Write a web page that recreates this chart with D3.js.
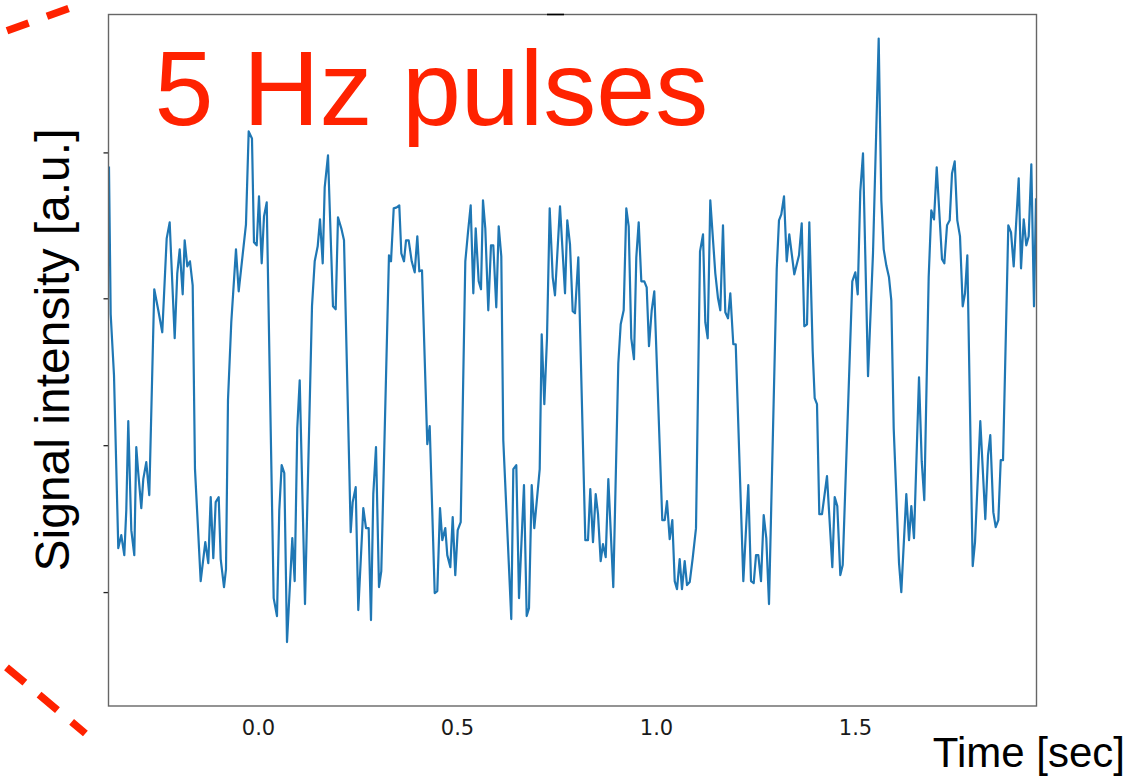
<!DOCTYPE html>
<html>
<head>
<meta charset="utf-8">
<script src="https://cdn.jsdelivr.net/npm/d3@7"></script>
<style>
body { margin: 0; background: #fff; }
</style>
</head>
<body>
<div id="chart"></div>
<script>
var svgWidth = 1128;
var svgHeight = 776;

var margin = { top: 14.5, right: 91.5, bottom: 70, left: 108.5 };
var width = svgWidth - margin.left - margin.right;
var height = svgHeight - margin.top - margin.bottom;

// Time samples (sec) and signal intensity (a.u.)
var times = [
  -0.3744,-0.3701,-0.3618,-0.3510,-0.3435,-0.3359,-0.3309,-0.3259,-0.3183,-0.3108,
  -0.3058,-0.3008,-0.2932,-0.2882,-0.2807,-0.2731,-0.2606,-0.2505,-0.2405,-0.2294,
  -0.2219,-0.2093,-0.2028,-0.1967,-0.1892,-0.1842,-0.1776,-0.1709,-0.1641,-0.1583,
  -0.1440,-0.1324,-0.1249,-0.1188,-0.1123,-0.1063,-0.0987,-0.0937,-0.0854,-0.0804,
  -0.0754,-0.0671,-0.0553,-0.0485,-0.0302,-0.0234,-0.0151,-0.0101,-0.0033,0.0025,
  0.0093,0.0151,0.0219,0.0394,0.0477,0.0535,0.0595,0.0661,0.0729,0.0862,
  0.0922,0.0987,0.1048,0.1181,0.1357,0.1425,0.1500,0.1558,0.1626,0.1676,
  0.1759,0.1884,0.1952,0.2010,0.2093,
  0.2161,0.2294,0.2329,0.2379,0.2455,0.2520,0.2646,0.2714,0.2781,0.2839,
  0.2897,0.2965,0.3040,0.3098,0.3291,0.3342,0.3410,0.3485,0.3550,0.3601,
  0.3668,0.3719,0.3786,0.3862,0.3937,0.4003,0.4053,0.4121,0.4254,0.4314,
  0.4440,0.4505,0.4573,0.4631,0.4706,0.4756,0.4832,0.4892,0.4957,0.5018,
  0.5093,0.5209,0.5276,0.5344,0.5410,0.5470,0.5545,0.5603,0.5653,0.5711,
  0.5786,0.5854,0.5912,0.5987,0.6048,0.6113,0.6163,0.6364,0.6415,0.6490,
  0.6558,0.6683,0.6751,0.6809,0.6877,0.6942,0.7078,0.7128,0.7194,0.7261,
  0.7329,0.7405,0.7462,0.7588,0.7714,0.7771,0.7839,0.7907,0.7965,0.8048,
  0.8224,0.8291,0.8349,0.8417,0.8485,0.8543,0.8610,0.8668,0.8736,0.8802,
  0.8927,0.9053,0.9113,0.9188,0.9254,0.9314,0.9379,0.9447,0.9505,0.9565,
  0.9631,0.9706,0.9766,0.9824,0.9892,0.9957,1.0158,1.0219,1.0276,1.0344,
  1.0410,1.0470,1.0528,1.0595,1.0653,1.0721,1.0779,1.0847,1.0922,
  1.1005,1.1106,1.1181,1.1239,1.1299,1.1364,1.1490,1.1558,1.1616,1.1683,
  1.1741,1.1809,1.1867,1.1942,1.2003,1.2194,1.2319,1.2387,1.2455,1.2513,
  1.2570,1.2638,1.2706,1.2771,1.2839,1.3033,1.3090,1.3148,1.3216,1.3284,
  1.3349,1.3475,1.3593,1.3661,1.3726,1.3794,1.3852,1.3937,1.3987,
  1.4045,1.4103,1.4171,1.4296,1.4430,1.4490,1.4555,1.4631,1.4691,1.4932,
  1.5008,1.5068,1.5133,1.5201,1.5327,1.5452,1.5595,1.5661,1.5721,1.5786,
  1.5854,1.5912,1.5972,1.6106,1.6163,1.6289,1.6357,1.6415,1.6482,1.6608,
  1.6676,1.6741,1.6851,1.6917,
  1.6985,1.7053,1.7186,1.7244,1.7312,1.7379,1.7437,1.7505,1.7570,1.7638,
  1.7706,1.7764,1.7822,1.7957,1.8015,1.8148,1.8274,1.8342,1.8399,1.8475,
  1.8535,1.8601,1.8661,1.8719,1.8852,1.8920,1.8987,1.9113,1.9171,1.9239,
  1.9304,1.9364,1.9430,1.9497,1.9548
];

var values = [
  540,392,331,158,171,151,196,285,176,151,
  259,233,198,227,244,211,417,396,374,468,
  484,368,433,457,412,466,440,445,421,237,
  125,164,143,209,148,204,209,147,119,137,
  306,384,457,415,482,575,568,464,461,510,
  443,490,504,108,90,196,241,233,64,168,
  125,278,326,102,400,445,460,487,443,519,
  551,400,397,489,478,
  466,237,174,204,219,96,198,178,178,86,
  212,259,119,135,451,445,498,499,501,453,
  445,466,466,445,434,470,435,436,262,280,
  113,115,198,166,178,151,139,189,131,176,
  184,445,474,501,413,478,425,417,506,478,
  396,461,461,399,480,450,266,87,237,241,
  108,221,90,98,221,178,237,372,302,368,
  498,429,411,500,413,486,462,395,393,449,
  166,166,217,164,212,192,145,162,149,227,
  119,343,382,396,498,480,368,347,449,484,
  425,425,419,360,396,415,186,186,205,167,
  186,125,117,147,117,145,121,124,148,
  178,455,472,384,368,506,433,408,396,481,
  394,388,413,362,362,125,221,125,123,151,
  151,125,191,168,102,437,486,492,510,445,
  472,432,451,483,380,382,484,355,308,
  302,192,192,230,139,209,200,131,141,425,
  434,412,515,553,330,453,668,506,457,441,
  429,406,278,143,114,212,166,200,168,329,
  245,206,429,496,
  487,539,447,443,481,486,533,545,486,470,
  400,413,451,140,164,285,187,251,271,194,
  179,186,246,246,481,474,440,528,438,487,
  461,470,542,400,508
];

var xTicks = [0.0, 0.5, 1.0, 1.5];
var yTicks = [114, 261, 408, 554];

var xDomain = [-0.3756, 1.956];
var yDomain = [0, 692];

var signal = times.map((t, i) => ({ t: t, v: values[i] }));

var svg = d3.select("#chart")
    .append("svg")
    .attr("width", svgWidth)
    .attr("height", svgHeight);

var chartGroup = svg.append("g")
    .attr("transform", `translate(${margin.left}, ${margin.top})`);

var xScale = d3.scaleLinear().domain(xDomain).range([0, width]);
var yScale = d3.scaleLinear().domain(yDomain).range([height, 0]);

// axes
var bottomAxis = d3.axisBottom(xScale)
    .tickValues(xTicks)
    .tickSize(0)
    .tickPadding(14)
    .tickFormat(d3.format(".1f"));

var leftAxis = d3.axisLeft(yScale)
    .tickValues(yTicks)
    .tickSize(5)
    .tickFormat("");

var xAxisG = chartGroup.append("g")
    .attr("transform", `translate(0, ${height})`)
    .call(bottomAxis);
xAxisG.select(".domain").remove();
xAxisG.attr("font-family", "DejaVu Sans").attr("font-size", 21);
xAxisG.selectAll("text").attr("fill", "#1a1a1a");

var yAxisG = chartGroup.append("g").call(leftAxis);
yAxisG.select(".domain").remove();
yAxisG.selectAll("line").attr("stroke", "#222").attr("stroke-width", 1.3);

// the signal
var line = d3.line()
    .x(d => xScale(d.t))
    .y(d => yScale(d.v));

chartGroup.append("clipPath").attr("id", "clip")
    .append("rect").attr("width", width).attr("height", height);

chartGroup.append("path")
    .datum(signal)
    .attr("clip-path", "url(#clip)")
    .attr("fill", "none")
    .attr("stroke", "#1f77b4")
    .attr("stroke-width", 2.2)
    .attr("stroke-linejoin", "round")
    .attr("d", line);

// frame
chartGroup.append("rect")
    .attr("width", width)
    .attr("height", height)
    .attr("fill", "none")
    .attr("stroke", "#666")
    .attr("stroke-width", 1.4);

chartGroup.append("line")
    .attr("x1", 547 - margin.left).attr("x2", 564 - margin.left)
    .attr("y1", 0).attr("y2", 0)
    .attr("stroke", "#000").attr("stroke-width", 1.6);

// labels
chartGroup.append("text")
    .attr("x", 46)
    .attr("y", 110)
    .style("font-family", "Liberation Sans, Arial, sans-serif")
    .style("font-size", "106px")
    .style("fill", "#ff2200")
    .text("5 Hz pulses");

svg.append("text")
    .attr("transform", "translate(69, 350) rotate(-90)")
    .attr("text-anchor", "middle")
    .style("font-family", "Liberation Sans, Arial, sans-serif")
    .style("font-size", "48px")
    .style("fill", "#000")
    .text("Signal intensity [a.u.]");

svg.append("text")
    .attr("x", 1125)
    .attr("y", 767)
    .attr("text-anchor", "end")
    .style("font-family", "Liberation Sans, Arial, sans-serif")
    .style("font-size", "42px")
    .style("fill", "#000")
    .text("Time [sec]");

// red dashed zoom guides
svg.append("line")
    .attr("x1", 7).attr("y1", 30.8)
    .attr("x2", 80).attr("y2", 4.3)
    .attr("stroke", "#ff2200").attr("stroke-width", 7.5)
    .attr("stroke-dasharray", "23 19.5");

svg.append("line")
    .attr("x1", 6.5).attr("y1", 667.3)
    .attr("x2", 85.4).attr("y2", 733.5)
    .attr("stroke", "#ff2200").attr("stroke-width", 7.5)
    .attr("stroke-dasharray", "24 18.5");
</script>
</body>
</html>
